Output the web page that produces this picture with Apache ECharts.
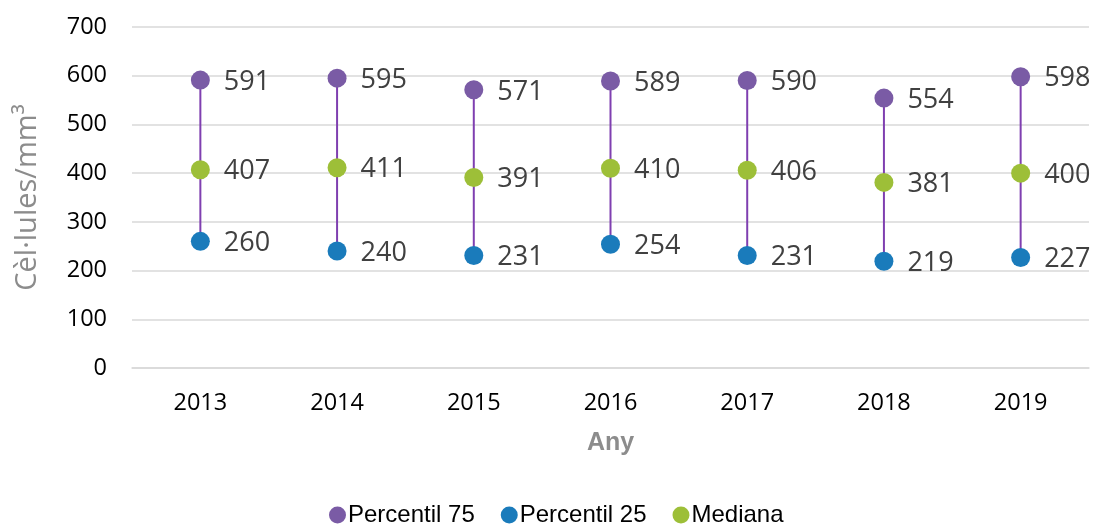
<!DOCTYPE html>
<html>
<head>
<meta charset="utf-8">
<script src="https://cdn.jsdelivr.net/npm/echarts@6/dist/echarts.min.js"></script>
<style>
    html, body { margin: 0; padding: 0; background: #fff; }
    #chart { width: 1099px; height: 525px; }
</style>
</head>
<body>
<div id="chart"></div>
<script>
// dades
var anys = ['2013', '2014', '2015', '2016', '2017', '2018', '2019'];
var percentil75 = [591, 595, 571, 589, 590, 554, 598];
var percentil25 = [260, 240, 231, 254, 231, 219, 227];
var mediana = [407, 411, 391, 410, 406, 381, 400];

var colorP75 = '#7a5ba5';
var colorP25 = '#1a7bbb';
var colorMed = '#9dbf38';

var chart = echarts.init(document.getElementById('chart'));

function punts(name, data, color) {
    return {
        name: name,
        type: 'scatter',
        data: data,
        symbol: 'circle',
        symbolSize: 19,
        itemStyle: { color: color, opacity: 1 },
        z: 5,
        label: {
            show: true,
            position: 'right',
            distance: 14,
            offset: [0, 2],
            color: '#404040',
            fontFamily: 'Open Sans',
            fontSize: 27
        }
    };
}

chart.setOption({
    animation: false,
    grid: { left: 132, right: 10, top: 27, bottom: 157 },
    legend: {
        top: 498,
        left: 324,
        icon: 'circle',
        itemWidth: 17,
        itemHeight: 17,
        itemGap: 26,
        textStyle: { fontFamily: 'Liberation Sans', fontSize: 24, color: '#000', padding: [0, 0, 0, -3] },
        data: ['Percentil 75', 'Percentil 25', 'Mediana']
    },
    xAxis: {
        type: 'category',
        data: anys,
        boundaryGap: true,
        name: 'Any',
        nameLocation: 'middle',
        nameGap: 63,
        nameTextStyle: { fontFamily: 'Liberation Sans', fontWeight: 'bold', fontSize: 25, color: '#8c8c8c' },
        axisLine: { lineStyle: { color: '#d9d9d9', width: 1.5 } },
        axisTick: { show: false },
        axisLabel: { fontFamily: 'Open Sans', fontSize: 23.5, color: '#000', margin: 23 }
    },
    yAxis: {
        type: 'value',
        min: 0,
        max: 700,
        interval: 100,
        name: 'Cèl·lules/mm³',
        nameLocation: 'middle',
        nameGap: 90,
        nameTextStyle: { fontFamily: 'Open Sans', fontSize: 29, color: '#8c8c8c' },
        axisLine: { show: false },
        axisTick: { show: false },
        axisLabel: { fontFamily: 'Open Sans', fontSize: 23.5, color: '#000', margin: 25 },
        splitLine: { lineStyle: { color: '#d9d9d9', width: 1.5 } }
    },
    series: [
        {
            name: 'rang',
            type: 'custom',
            z: 2,
            silent: true,
            data: anys.map(function (a, i) { return [i, percentil25[i], percentil75[i]]; }),
            renderItem: function (params, api) {
                var baix = api.coord([api.value(0), api.value(1)]);
                var dalt = api.coord([api.value(0), api.value(2)]);
                return {
                    type: 'line',
                    shape: { x1: baix[0], y1: baix[1], x2: dalt[0], y2: dalt[1] },
                    style: { stroke: '#7f3fb0', lineWidth: 2 }
                };
            }
        },
        punts('Percentil 75', percentil75, colorP75),
        punts('Percentil 25', percentil25, colorP25),
        punts('Mediana', mediana, colorMed)
    ]
});
</script>
</body>
</html>
